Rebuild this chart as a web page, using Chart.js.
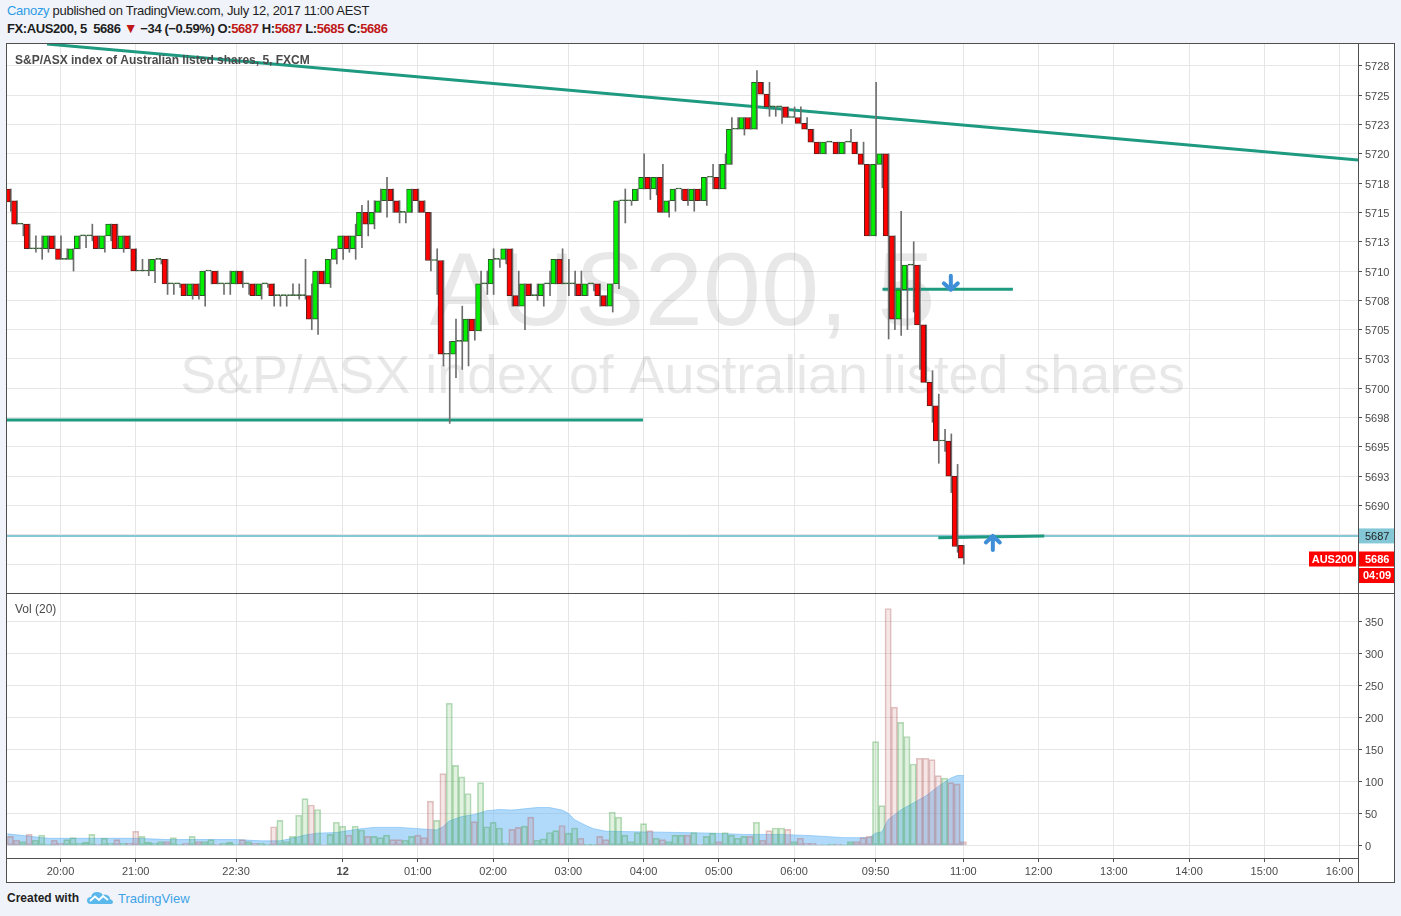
<!DOCTYPE html>
<html><head><meta charset="utf-8"><title>AUS200, 5</title>
<script src="https://cdn.jsdelivr.net/npm/chart.js@4.4.1/dist/chart.umd.min.js"></script>
<style>
*{box-sizing:border-box}
html,body{margin:0;padding:0}
body{width:1401px;height:916px;background:#f0f3fa;position:relative;overflow:hidden;font-family:"Liberation Sans",Arial,sans-serif;color:#1e1e1e}
.hdr{position:absolute;left:7px;font-size:13px;line-height:15px;white-space:nowrap}
#h1{top:3px;letter-spacing:-0.3px}
#h2{top:21px;font-weight:bold;letter-spacing:-0.4px}
.blue{color:#2e9be6}
.red{color:#c01818}
.tri{font-size:14px}
#frame{position:absolute;left:6px;top:43px;width:1389px;height:840px;background:#fff;border:1px solid #4f4f4f}
canvas{position:absolute;left:7px}
#pc{top:44px}
#vc{top:593px}
.ln{position:absolute;background:#4f4f4f}
#foot{position:absolute;left:7px;top:890px;height:16px;white-space:nowrap}
#foot .c{position:absolute;left:0;top:1px;font-weight:bold;font-size:12px;color:#1e1e1e}
#foot svg{position:absolute;left:80px;top:0}
#foot .t{position:absolute;left:111px;top:1px;font-size:13px;color:#3ea3e8}
</style></head>
<body>
<div id="h1" class="hdr"><span class="blue">Canozy</span> published on TradingView.com, July 12, 2017 11:00 AEST</div>
<div id="h2" class="hdr">FX:AUS200, 5&nbsp; 5686 <span class="red tri">&#9660;</span> &minus;34 (&minus;0.59%) O:<span class="red">5687</span> H:<span class="red">5687</span> L:<span class="red">5685</span> C:<span class="red">5686</span></div>
<div id="frame"></div>
<canvas id="pc" width="1387" height="549"></canvas>
<canvas id="vc" width="1387" height="289"></canvas>
<div class="ln" style="left:7px;top:593px;width:1387px;height:1px"></div>
<div class="ln" style="left:1358px;top:858px;width:1px;height:24px"></div>
<div id="foot"><span class="c">Created with</span>
<svg width="26" height="16" viewBox="0 0 26 16"><path d="M4 14 Q0 14 0 10.5 Q0 7 4 7 Q5 2 10 2 Q14 2 16 5 Q18 4 20 5 Q23 6 23 9 Q26 10 26 12 Q26 14 23 14 Z" fill="#5ab9ea"/><polyline points="3,11 8,6.5 12,10 16,6 21,10" fill="none" stroke="#fff" stroke-width="1.8"/></svg>
<span class="t">TradingView</span></div>
<script>
// ---------- data ----------
const opens = [5717.0,5716.0,5714.0,5714.0,5711.9,5711.9,5711.9,5713.0,5711.9,5711.0,
5711.0,5711.9,5713.0,5713.0,5713.0,5711.9,5713.0,5714.0,5711.9,5713.0,
5711.9,5710.0,5710.0,5710.0,5711.0,5711.0,5708.9,5708.9,5708.9,5707.9,
5708.9,5707.9,5710.0,5710.0,5708.9,5708.9,5708.9,5710.0,5708.9,5708.9,
5707.9,5708.9,5708.9,5707.9,5707.9,5707.9,5707.9,5707.9,5707.9,5705.9,
5710.0,5708.9,5711.0,5711.9,5713.0,5711.9,5713.0,5715.0,5714.0,5715.0,
5716.0,5717.0,5716.0,5715.0,5715.0,5717.0,5716.0,5715.0,5710.9,5710.9,
5702.9,5702.9,5704.0,5704.0,5705.9,5704.9,5708.9,5708.9,5711.0,5711.0,
5711.9,5707.9,5707.0,5708.9,5707.9,5707.9,5708.9,5708.9,5711.0,5708.9,
5708.9,5708.9,5707.9,5708.9,5708.9,5707.9,5707.0,5708.9,5716.0,5716.0,
5716.0,5717.0,5718.0,5717.0,5718.0,5715.0,5716.0,5717.0,5717.0,5716.0,
5717.0,5716.0,5718.0,5718.0,5717.0,5719.1,5722.1,5722.1,5723.1,5722.1,
5726.1,5725.1,5724.0,5724.0,5724.0,5723.1,5723.1,5722.6,5722.1,5721.0,
5720.0,5721.0,5721.0,5720.0,5721.0,5721.0,5720.0,5719.1,5713.0,5719.1,
5720.0,5713.0,5705.9,5708.4,5710.5,5710.5,5705.4,5700.5,5698.5,5695.5,
5695.5,5692.5,5686.6];
const highs = [5717.0,5716.0,5714.0,5714.0,5713.0,5713.0,5713.0,5713.0,5713.0,5711.9,
5711.9,5713.0,5713.0,5714.0,5713.0,5713.0,5714.0,5714.0,5713.0,5713.0,
5711.9,5711.0,5711.0,5711.0,5711.0,5711.0,5708.9,5708.9,5708.9,5708.9,
5708.9,5710.0,5710.0,5710.0,5708.9,5710.0,5710.0,5710.0,5708.9,5708.9,
5708.9,5708.9,5708.9,5707.9,5707.9,5708.9,5708.9,5711.0,5708.9,5710.0,
5710.0,5711.0,5711.9,5713.0,5713.0,5714.0,5715.6,5716.0,5716.0,5717.0,
5718.0,5717.0,5716.0,5715.0,5717.0,5717.0,5716.0,5715.0,5711.9,5710.9,
5704.0,5705.9,5707.0,5705.9,5705.9,5710.0,5710.0,5711.9,5711.0,5711.9,
5711.9,5710.0,5708.9,5708.9,5708.9,5708.9,5710.0,5711.0,5711.9,5711.0,
5710.0,5710.0,5708.9,5708.9,5708.9,5707.9,5708.9,5716.0,5717.0,5716.0,
5717.0,5720.0,5718.0,5718.0,5719.1,5716.0,5717.0,5717.0,5717.0,5717.0,
5717.0,5718.0,5719.1,5719.1,5720.0,5723.1,5723.1,5723.1,5723.1,5727.1,
5726.1,5726.1,5724.0,5724.0,5724.0,5724.0,5724.0,5723.1,5722.1,5721.0,
5721.0,5721.0,5721.0,5721.0,5722.1,5721.0,5721.0,5719.1,5726.1,5720.0,
5720.0,5713.0,5715.1,5710.5,5712.5,5710.5,5705.4,5701.5,5699.5,5696.5,
5696.1,5693.5,5686.6];
const lows = [5715.1,5714.0,5713.0,5711.9,5711.6,5711.0,5711.6,5711.9,5711.0,5711.0,
5710.0,5711.9,5712.0,5712.6,5711.9,5711.6,5712.6,5711.9,5711.6,5711.9,
5710.0,5710.0,5709.6,5709.0,5710.6,5708.0,5708.0,5708.6,5707.9,5707.6,
5707.6,5707.0,5708.9,5708.9,5708.0,5708.0,5708.9,5708.6,5708.0,5707.9,
5707.6,5708.6,5707.0,5707.0,5707.0,5707.9,5707.6,5707.6,5705.0,5704.6,
5708.9,5708.6,5710.6,5711.0,5711.6,5711.0,5712.0,5713.0,5713.6,5715.0,
5714.6,5715.0,5714.1,5714.1,5715.0,5715.0,5715.0,5710.0,5708.0,5701.9,
5697.0,5700.9,5701.6,5701.9,5704.1,5704.9,5708.0,5708.0,5710.3,5710.6,
5707.0,5707.0,5705.0,5707.9,5707.5,5707.0,5707.9,5708.9,5708.9,5707.9,
5707.9,5707.9,5707.9,5708.3,5707.0,5707.0,5706.5,5708.5,5714.1,5715.6,
5716.0,5717.0,5716.1,5716.5,5715.0,5714.6,5715.1,5716.1,5715.6,5715.1,
5716.0,5715.6,5717.0,5717.0,5717.0,5719.1,5722.1,5721.6,5722.1,5722.1,
5725.1,5723.2,5723.2,5722.6,5723.1,5723.1,5722.6,5722.1,5721.0,5720.0,
5720.0,5721.0,5720.0,5720.0,5721.0,5720.0,5719.1,5713.0,5713.0,5717.1,
5704.2,5705.0,5704.5,5705.0,5706.5,5701.6,5700.5,5697.1,5693.6,5694.6,
5691.1,5686.0,5685.0];
const closes = [5715.9,5714.0,5714.0,5711.9,5711.9,5711.9,5713.0,5711.9,5711.0,5711.0,
5711.9,5713.0,5713.0,5713.0,5711.9,5713.0,5714.0,5711.9,5713.0,5711.9,
5710.0,5710.0,5710.0,5711.0,5711.0,5708.9,5708.9,5708.9,5707.9,5708.9,
5707.9,5710.0,5710.0,5708.9,5708.9,5708.9,5710.0,5708.9,5708.9,5707.9,
5708.9,5708.9,5707.9,5707.9,5707.9,5707.9,5707.9,5707.9,5705.9,5710.0,
5708.9,5711.0,5711.9,5713.0,5711.9,5713.0,5715.0,5714.0,5715.0,5716.0,
5717.0,5716.0,5715.0,5715.0,5717.0,5716.0,5715.0,5710.9,5710.9,5702.9,
5702.9,5704.0,5704.0,5705.9,5704.9,5708.9,5708.9,5711.0,5711.0,5711.9,
5707.9,5707.0,5708.9,5707.9,5707.9,5708.9,5708.9,5711.0,5708.9,5708.9,
5708.9,5707.9,5708.9,5708.9,5707.9,5707.0,5708.9,5716.0,5716.0,5716.0,
5717.0,5718.0,5717.0,5718.0,5715.0,5716.0,5717.0,5717.0,5716.0,5717.0,
5716.0,5718.0,5718.0,5717.0,5719.1,5722.1,5722.1,5723.1,5722.1,5726.1,
5725.1,5724.0,5724.0,5724.0,5723.1,5723.1,5722.6,5722.1,5721.0,5720.0,
5721.0,5721.0,5720.0,5721.0,5721.0,5720.0,5719.1,5713.0,5719.1,5720.0,
5713.0,5705.9,5708.4,5710.5,5710.5,5705.4,5700.5,5698.5,5695.5,5695.5,
5692.5,5686.5,5685.5];
const volumes = [14,8,6,17,8,16,2,8,3,9,12,3,5,17,2,11,3,9,3,3,
22,14,5,3,6,6,12,2,3,14,6,6,9,2,3,5,2,9,6,3,
3,2,29,39,6,14,47,73,63,56,1,17,36,30,16,30,24,14,14,12,
16,9,9,8,14,16,12,69,39,112,222,125,107,81,37,98,29,36,27,3,
25,28,30,44,8,10,20,23,31,19,27,11,2,2,14,9,52,44,16,6,
20,34,23,11,9,6,16,16,16,20,2,14,19,6,20,16,11,14,14,36,
8,23,27,27,25,6,11,3,3,1,1,2,2,1,6,6,12,14,162,62,
370,216,192,170,127,136,136,134,109,105,98,96,6];
// Vol MA(20) (bar index, value)
const volMaIdx = [-0.5,6,20,25,36,40,43,45,47,49,52,54,56,58,62,65,68,69,70,72,74,76,78,80,84,86,88,89,90,91,92,93,95,101,107,112,117,123,128,133,137,138,139,140,142,144,146,148,150,151,152.1];
const volMaVal = [18,11,11,9,9,7,7,11,16,19,20,23,26,28,28,26,24,29,38,45,48,54,56,55,59,59,55,50,40,35,30,26,22,21,20,19,17,17,15,12,12,19,21,40,55,66,77,92,105,109,109];
const timeTickIdx = [8,20,36,53,65,77,89,101,113,125,138,152,164,176,188,200,212];
const timeTickLabels = ['20:00','21:00','22:30','12','01:00','02:00','03:00','04:00','05:00','06:00','09:50','11:00','12:00','13:00','14:00','15:00','16:00'];
const priceTicks = [5685,5687.5,5690,5692.5,5695,5697.5,5700,5702.5,5705,5707.5,5710,5712.5,5715,5717.5,5720,5722.5,5725,5727.5];
const priceTickLabels = ['','','5690','5693','5695','5698','5700','5703','5705','5708','5710','5713','5715','5718','5720','5723','5725','5728'];
const volTicks = [0,50,100,150,200,250,300,350];
// drawings: [x1, price1, x2, price2]
const trendDown = [5.85,5729.37,214.94,5719.47];
const supportLine = [-1,5697.3,100.9,5697.3];
const midLine = [139.1,5708.45,159.9,5708.45];
const lowLine = [148.0,5687.25,164.9,5687.4];
const priceLineValue = 5687.4;
const priceLineLabel = '5687';
const arrowIdx = [150.0,156.7];
const arrowPrice = [5709.0,5686.8];
const arrowDir = ['down','up'];
const symbolLabel = 'AUS200';
const countdownLabel = '04:09';

// ---------- helpers ----------
const N = opens.length;
const idx = opens.map((_, i) => i);
const isUp = idx.map(i => closes[i] >= opens[i]);
const isDoji = idx.map(i => Math.abs(closes[i] - opens[i]) < 0.05);
const FONT = '"Liberation Sans", Arial, sans-serif';
const GRID = '#e6e6e6';
const AXIS = '#4f4f4f';
const TEAL = '#1e9a80';
const XMIN = -0.53, XMAX = 214.94;

function seg(a){ return [{x:a[0], y:a[1]}, {x:a[2], y:a[3]}]; }
function lineDs(points, color, width, order){
  return {type:'line', data:points, borderColor:color, borderWidth:width, pointRadius:0, fill:false, tension:0, order:order, borderCapStyle:'butt'};
}
function fixY(w){ return s => { s.width = w; s.paddingTop = 0; s.paddingBottom = 0; }; }
function fixX(h){ return s => { s.height = h; s.paddingLeft = 0; s.paddingRight = 0; }; }

const xScaleBase = {
  type:'linear', min:XMIN, max:XMAX, offset:false,
  grid:{color:GRID, offset:false, drawTicks:false},
  afterBuildTicks: s => { s.ticks = timeTickIdx.map(v => ({value:v})); }
};

// ---------- price chart ----------
const watermarkPlugin = {
  id:'wm',
  beforeDatasetsDraw(chart){
    const {ctx, chartArea:a} = chart;
    const cx = (a.left + a.right) / 2;
    ctx.save();
    ctx.fillStyle = 'rgba(0,0,0,0.09)';
    ctx.textAlign = 'center';
    ctx.textBaseline = 'alphabetic';
    const t1 = 'AUS200, 5', t2 = 'S&P/ASX index of Australian listed shares';
    ctx.font = '100px ' + FONT;
    let s1 = 100 * 506 / ctx.measureText(t1).width;
    ctx.font = s1.toFixed(1) + 'px ' + FONT;
    ctx.fillText(t1, cx, 281);
    ctx.font = '50px ' + FONT;
    let s2 = 50 * 1005 / ctx.measureText(t2).width;
    ctx.font = s2.toFixed(1) + 'px ' + FONT;
    ctx.fillText(t2, cx, 349);
    ctx.restore();
  }
};
const overlayPlugin = {
  id:'ov',
  afterDraw(chart){
    const {ctx, chartArea:a, scales} = chart;
    const y = scales.y, x = scales.x;
    ctx.save();
    // pane title
    ctx.font = 'bold 12px ' + FONT;
    ctx.fillStyle = '#4a4a4a';
    ctx.textBaseline = 'middle';
    ctx.textAlign = 'left';
    ctx.fillText('S&P/ASX index of Australian listed shares, 5, FXCM', 8, 17);
    // arrows
    ctx.strokeStyle = '#3f8fd8';
    ctx.lineWidth = 4;
    ctx.lineCap = 'round';
    ctx.lineJoin = 'round';
    arrowIdx.forEach((v, k) => {
      const px = x.getPixelForValue(v), py = y.getPixelForValue(arrowPrice[k]);
      const d = arrowDir[k] === 'down' ? 1 : -1;
      ctx.beginPath();
      ctx.moveTo(px, py - 7 * d); ctx.lineTo(px, py + 7 * d);
      ctx.moveTo(px - 7, py + 0.5 * d); ctx.lineTo(px, py + 7 * d); ctx.lineTo(px + 7, py + 0.5 * d);
      ctx.stroke();
    });
    // price line label
    const boxL = a.right + 1, boxW = 35;
    const ply = y.getPixelForValue(priceLineValue);
    ctx.fillStyle = '#84c8d8';
    ctx.fillRect(boxL, ply - 7.5, boxW, 15);
    ctx.fillStyle = '#1e1e1e';
    ctx.font = '11px ' + FONT;
    ctx.textAlign = 'left';
    ctx.fillText(priceLineLabel, boxL + 6, ply + 1);
    // last price labels
    const last = closes[N - 1];
    const ly = Math.round(y.getPixelForValue(last)) + 1;
    ctx.fillStyle = '#ff0000';
    ctx.fillRect(boxL, ly - 7.5, boxW, 15);
    ctx.fillRect(boxL, ly + 9, boxW, 15);
    ctx.fillRect(a.right - 49, ly - 7.5, 47, 15);
    ctx.fillStyle = '#ffffff';
    ctx.font = 'bold 11px ' + FONT;
    ctx.fillText(String(Math.round(last)), boxL + 6, ly + 0.5);
    ctx.fillText(countdownLabel, boxL + 4, ly + 17);
    ctx.textAlign = 'center';
    ctx.fillText(symbolLabel, a.right - 25.5, ly + 0.5);
    ctx.restore();
  }
};

new Chart(document.getElementById('pc'), {
  type:'bar',
  data:{datasets:[
    {label:'bodies', data: idx.map(i => ({x:i, y:[Math.min(opens[i], closes[i]), Math.max(opens[i], closes[i])]})),
      backgroundColor: idx.map(i => isDoji[i] ? '#2a5a2a' : (isUp[i] ? '#00f000' : '#ff0000')),
      borderColor: idx.map(i => isUp[i] ? '#2a5a2a' : '#5e1c1c'),
      borderWidth:1, borderSkipped:false, barThickness:5, minBarLength:1, order:0},
    {label:'wicks', data: idx.map(i => ({x:i, y:[lows[i], highs[i]]})),
      backgroundColor:'#6e6e6e', borderWidth:0, barThickness:1, order:1},
    lineDs(seg(trendDown), TEAL, 3, 2),
    lineDs(seg(supportLine), TEAL, 3, 2),
    lineDs(seg(midLine), TEAL, 3, 2),
    lineDs(seg(lowLine), TEAL, 3, 2),
    lineDs([{x:XMIN, y:priceLineValue}, {x:XMAX, y:priceLineValue}], '#84c8d8', 2, 3)
  ]},
  options:{
    responsive:false, animation:false, devicePixelRatio:1,
    layout:{padding:0},
    plugins:{legend:{display:false}, tooltip:{enabled:false}},
    scales:{
      x: Object.assign({}, xScaleBase, {ticks:{display:false}, border:{display:false}, afterFit: fixX(0)}),
      y: {type:'linear', position:'right', min:5682.53, max:5729.37,
        grid:{color:GRID, drawTicks:true, tickLength:4, tickColor:AXIS},
        border:{display:true, color:AXIS},
        ticks:{color:'#4a4a4a', font:{family:FONT, size:11}, padding:3, autoSkip:false, labelOffset:1.5,
          callback: v => { const k = priceTicks.indexOf(v); return k >= 0 ? priceTickLabels[k] : ''; }},
        afterBuildTicks: s => { s.ticks = priceTicks.map(v => ({value:v})); },
        afterFit: fixY(36)}
    }
  },
  plugins:[watermarkPlugin, overlayPlugin]
});

// ---------- volume chart ----------
const volTitle = {
  id:'vt',
  afterDraw(chart){
    const {ctx} = chart;
    ctx.save();
    ctx.font = '12px ' + FONT;
    ctx.fillStyle = '#4a4a4a';
    ctx.textBaseline = 'middle';
    ctx.fillText('Vol (20)', 8, 17);
    ctx.restore();
  }
};
new Chart(document.getElementById('vc'), {
  type:'bar',
  data:{datasets:[
    {label:'Vol', data: idx.map(i => ({x:i, y:volumes[i]})),
      backgroundColor: idx.map(i => isUp[i] ? 'rgba(76,175,80,0.17)' : 'rgba(200,110,110,0.17)'),
      borderColor: idx.map(i => isUp[i] ? 'rgba(70,160,75,0.38)' : 'rgba(180,100,100,0.38)'),
      borderWidth:1, borderSkipped:false, barThickness:6.3, order:0},
    {type:'line', label:'MA', data: volMaIdx.map((v, k) => ({x:v, y:volMaVal[k]})),
      borderColor:'rgba(100,181,246,0.55)', borderWidth:1, backgroundColor:'rgba(100,181,246,0.5)',
      fill:'origin', pointRadius:0, tension:0, order:1}
  ]},
  options:{
    responsive:false, animation:false, devicePixelRatio:1,
    layout:{padding:0},
    plugins:{legend:{display:false}, tooltip:{enabled:false}},
    scales:{
      x: Object.assign({}, xScaleBase, {
        grid:{color:GRID, offset:false, drawTicks:true, tickLength:4, tickColor:AXIS},
        border:{display:true, color:AXIS},
        ticks:{autoSkip:false, maxRotation:0, padding:3, color:'#4a4a4a',
          font: c => ({family:FONT, size:11, weight: (c.tick && c.tick.label === '12') ? 'bold' : 'normal'}),
          callback: v => { const k = timeTickIdx.indexOf(v); return k >= 0 ? timeTickLabels[k] : ''; }},
        afterFit: fixX(24)}),
      y: {type:'linear', position:'right', min:-19.8, max:394.2,
        grid:{color:GRID, drawTicks:true, tickLength:4, tickColor:AXIS},
        border:{display:true, color:AXIS},
        ticks:{color:'#4a4a4a', font:{family:FONT, size:11}, padding:3, autoSkip:false, labelOffset:1.5,
          callback: v => String(v)},
        afterBuildTicks: s => { s.ticks = volTicks.map(v => ({value:v})); },
        afterFit: fixY(36)}
    }
  },
  plugins:[volTitle]
});
</script>
</body></html>
